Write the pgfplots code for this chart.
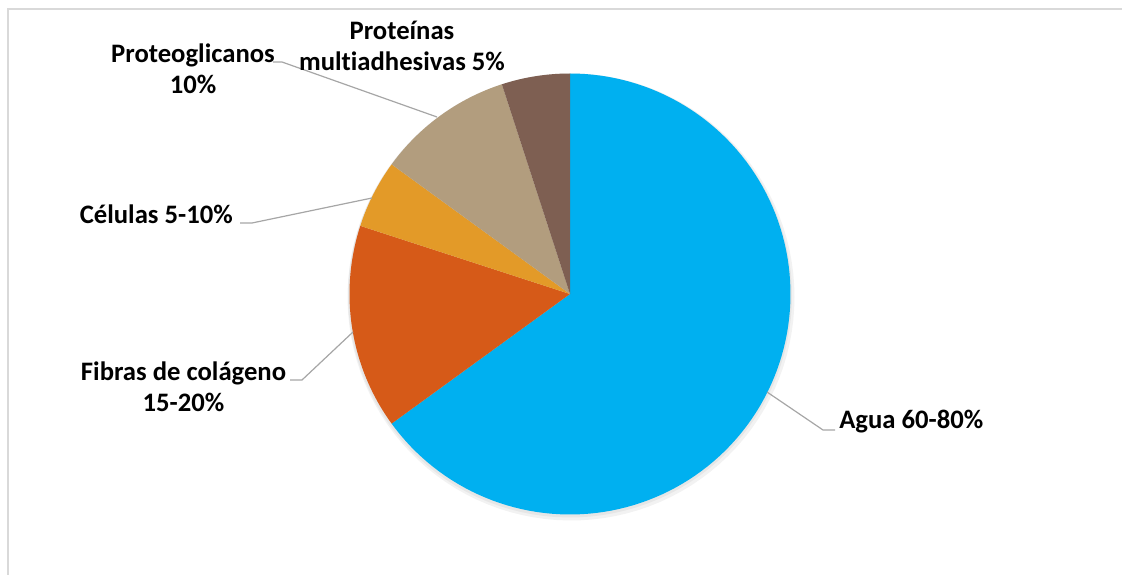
\documentclass[border=0pt]{standalone}
\usepackage{pgfplots}
\pgfplotsset{compat=1.18}
\usepackage{pgfplotstable}
\usepackage{fontspec}
\setmainfont{Carlito}[Ligatures=NoCommon]
\definecolor{agua}{HTML}{00B0F0}
\definecolor{fibras}{HTML}{D65A18}
\definecolor{celulas}{HTML}{E39A28}
\definecolor{proteo}{HTML}{B29D7E}
\definecolor{proteinas}{HTML}{7E5F52}
\definecolor{leader}{HTML}{A6A6A6}
\definecolor{frame}{HTML}{D9D9D9}
% center and radius in pixel units
\def\cx{570}\def\cy{281}\def\R{220.5}
% #1 cumulative start (%), #2 share (%), #3 colour
\newcommand\slice[3]{%
  \pgfmathsetmacro\angA{90-3.6*#1}%
  \pgfmathsetmacro\angB{90-3.6*(#1+#2)}%
  \edef\temp{\noexpand\addplot[draw=none, fill=#3, domain=\angB:\angA, samples=120]
    ({\cx+\R*cos(x)},{\cy+\R*sin(x)}) -- (axis cs:\cx,\cy) -- cycle;}%
  \temp}
\begin{document}
\begin{tikzpicture}
\useasboundingbox (0,0) rectangle (841.5pt,431.25pt);
\begin{axis}[
  scale only axis, width=841.5pt, height=431.25pt,
  xmin=0, xmax=1122, ymin=0, ymax=575,
  hide axis, clip=false,
  font=\fontsize{20}{23.6}\selectfont\bfseries,
]
% frame
\draw[frame, line width=1.1pt] (axis cs:8,-20) -- (axis cs:8,566) -- (axis cs:1140,566);
% shadow
\addplot[draw=none, fill=black, fill opacity=0.05, domain=0:360, samples=120]
  ({\cx+1+(\R+3)*cos(x)},{\cy-3+(\R+3)*sin(x)}) -- cycle;
\addplot[draw=none, fill=black, fill opacity=0.05, domain=0:360, samples=120]
  ({\cx+(\R+1.5)*cos(x)},{\cy-1.5+(\R+1.5)*sin(x)}) -- cycle;
% slices: Agua 65, Fibras 15, Celulas 5, Proteoglicanos 10, Proteinas 5
\slice{0}{65}{agua}
\slice{65}{15}{fibras}
\slice{80}{5}{celulas}
\slice{85}{10}{proteo}
\slice{95}{5}{proteinas}
% leader lines
\draw[leader, line width=0.9pt] (axis cs:767,183) -- (axis cs:823,145) -- (axis cs:835,145);
\draw[leader, line width=0.9pt] (axis cs:353,243) -- (axis cs:302,195) -- (axis cs:290,195);
\draw[leader, line width=0.9pt] (axis cs:372,377) -- (axis cs:252,352) -- (axis cs:240,352);
\draw[leader, line width=0.9pt] (axis cs:437,458) -- (axis cs:282,513) -- (axis cs:273,513);
% labels (anchor=base on multi-line nodes is the last line's baseline)
\node[anchor=base west, inner sep=0pt] at (axis cs:839,146) {Agua 60-80\%};
\node[anchor=base, inner sep=0pt, align=center] at (axis cs:183.5,163) {Fibras de colágeno\\15-20\%};
\node[anchor=base east, inner sep=0pt] at (axis cs:233,351) {Células 5-10\%};
\node[anchor=base, inner sep=0pt, align=center] at (axis cs:193,481) {Proteoglicanos\\10\%};
\node[anchor=base, inner sep=0pt, align=center] at (axis cs:402,504) {Proteínas\\multiadhesivas 5\%};
\end{axis}
\end{tikzpicture}
\end{document}
